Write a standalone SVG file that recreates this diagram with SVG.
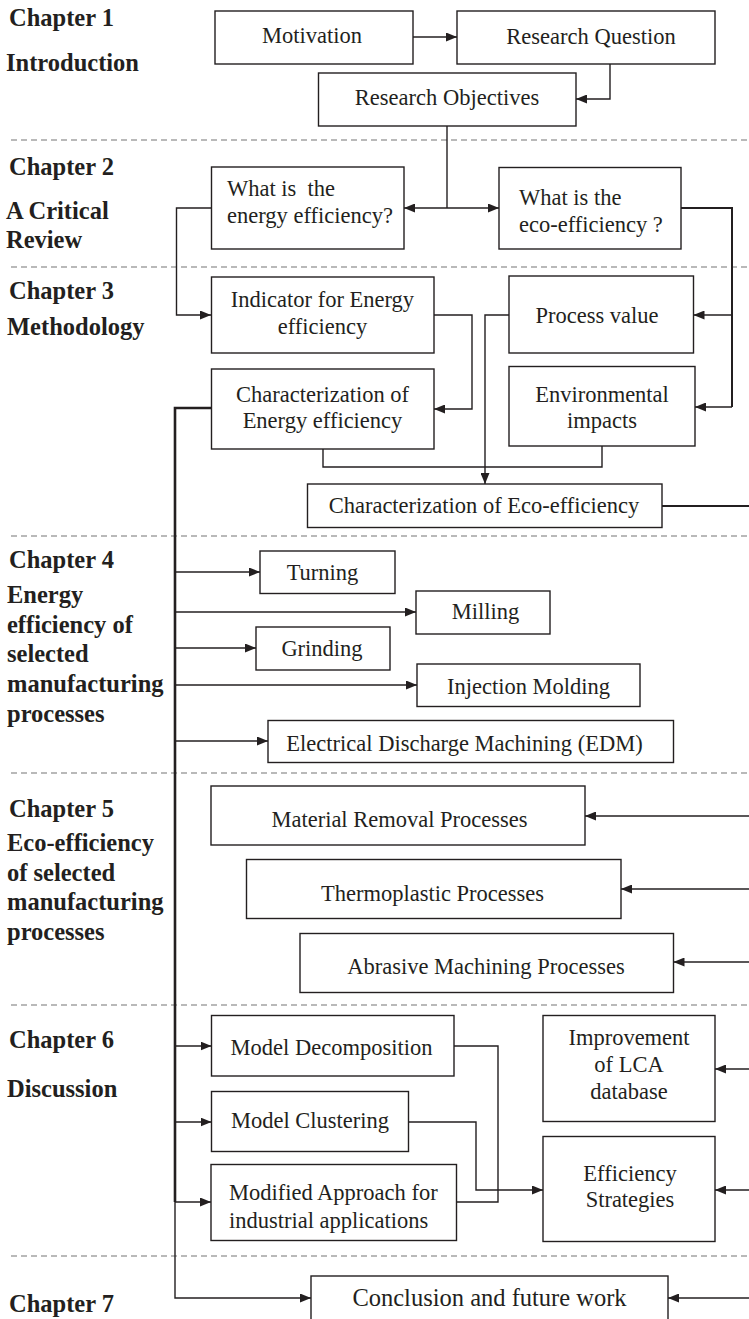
<svg xmlns="http://www.w3.org/2000/svg" width="749" height="1319" viewBox="0 0 749 1319">
  <style>
    .box { fill: #fff; stroke: #231f20; stroke-width: 1.4; }
    .t { font-family: "Liberation Serif", "Times New Roman", serif; font-size: 22.5px; fill: #231f20; }
    .c { text-anchor: middle; }
    .ch { font-family: "Liberation Serif", "Times New Roman", serif; font-size: 24.5px; font-weight: bold; fill: #231f20; }
    .sep { stroke: #a3a3a3; stroke-width: 1.4; stroke-dasharray: 6 4; fill: none; }
    .ln { fill: none; stroke: #231f20; stroke-width: 1.4; }
    .thick { stroke-width: 2.6; }
    .mid { stroke-width: 2; }
    .arr { marker-end: url(#ah); }
  </style>
  <defs>
    <marker id="ah" viewBox="0 0 11 9" refX="11" refY="4.5" markerWidth="11" markerHeight="9" markerUnits="userSpaceOnUse" orient="auto">
      <path d="M0,0 L11,4.5 L0,9 z" fill="#231f20"/>
    </marker>
  </defs>
  <rect width="749" height="1319" fill="#fff"/>

  <!-- chapter separators -->
  <g id="separators">
    <line class="sep" x1="11" y1="140" x2="749" y2="140"/>
    <line class="sep" x1="11" y1="267" x2="749" y2="267"/>
    <line class="sep" x1="11" y1="536" x2="749" y2="536"/>
    <line class="sep" x1="11" y1="773" x2="749" y2="773"/>
    <line class="sep" x1="11" y1="1005" x2="749" y2="1005"/>
    <line class="sep" x1="11" y1="1256" x2="749" y2="1256"/>
  </g>

  <!-- chapter headings -->
  <g id="chapters">
    <text class="ch" x="9" y="26">Chapter 1</text>
    <text class="ch" x="6" y="71">Introduction</text>
    <text class="ch" x="9" y="175">Chapter 2</text>
    <text class="ch" x="6" y="219">A Critical</text>
    <text class="ch" x="6" y="248">Review</text>
    <text class="ch" x="9" y="299">Chapter 3</text>
    <text class="ch" x="7" y="335">Methodology</text>
    <text class="ch" x="9" y="568">Chapter 4</text>
    <text class="ch" x="7" y="603">Energy</text>
    <text class="ch" x="7" y="633">efficiency of</text>
    <text class="ch" x="7" y="662">selected</text>
    <text class="ch" x="7" y="692">manufacturing</text>
    <text class="ch" x="7" y="722">processes</text>
    <text class="ch" x="9" y="817">Chapter 5</text>
    <text class="ch" x="7" y="851">Eco-efficiency</text>
    <text class="ch" x="7" y="881">of selected</text>
    <text class="ch" x="7" y="910">manufacturing</text>
    <text class="ch" x="7" y="940">processes</text>
    <text class="ch" x="9" y="1048">Chapter 6</text>
    <text class="ch" x="7" y="1097">Discussion</text>
    <text class="ch" x="9" y="1312">Chapter 7</text>
  </g>

  <!-- connectors -->
  <g id="connectors">
    <line class="ln arr" x1="413" y1="37" x2="457" y2="37"/>
    <polyline class="ln arr" points="610,64 610,99 576,99"/>
    <line class="ln" x1="447" y1="126" x2="447" y2="208"/>
    <line class="ln arr" x1="447" y1="208" x2="404" y2="208"/>
    <line class="ln arr" x1="447" y1="208" x2="499" y2="208"/>
    <polyline class="ln arr" points="211,208 176.5,208 176.5,315 211,315"/>
    <polyline class="ln mid" points="681,208 732,208 732,407"/>
    <line class="ln arr" x1="732" y1="315" x2="693.5" y2="315"/>
    <line class="ln arr" x1="732" y1="407" x2="695" y2="407"/>
    <polyline class="ln arr" points="434,315 472,315 472,409 434,409"/>
    <polyline class="ln" points="323,449 323,467 602,467 602,446"/>
    <polyline class="ln arr" points="509,315 485,315 485,484"/>
    <line class="ln mid" x1="662" y1="506" x2="749" y2="506"/>
    <!-- spine from Energy-efficiency characterization -->
    <polyline class="ln thick" points="211,408 175,408 175,1202"/>
    <polyline class="ln arr" points="175,1202 175,1298 311,1298"/>
    <line class="ln arr" x1="175" y1="572" x2="260" y2="572"/>
    <line class="ln arr" x1="175" y1="612" x2="416" y2="612"/>
    <line class="ln arr" x1="175" y1="648" x2="256" y2="648"/>
    <line class="ln arr" x1="175" y1="685" x2="417" y2="685"/>
    <line class="ln arr" x1="175" y1="741" x2="268" y2="741"/>
    <line class="ln arr" x1="175" y1="1046" x2="211.5" y2="1046"/>
    <line class="ln arr" x1="175" y1="1122" x2="211.5" y2="1122"/>
    <line class="ln arr" x1="175" y1="1202" x2="211" y2="1202"/>
    <!-- feeds from the right margin -->
    <line class="ln arr" x1="749" y1="816" x2="585" y2="816"/>
    <line class="ln arr" x1="749" y1="889" x2="621" y2="889"/>
    <line class="ln arr" x1="749" y1="962" x2="673.5" y2="962"/>
    <line class="ln arr" x1="749" y1="1069" x2="715" y2="1069"/>
    <line class="ln arr" x1="749" y1="1190" x2="715" y2="1190"/>
    <line class="ln arr" x1="749" y1="1298" x2="668" y2="1298"/>
    <!-- discussion models to strategies -->
    <polyline class="ln" points="454,1046 498,1046 498,1202 456.5,1202"/>
    <polyline class="ln arr" points="408.5,1122 476,1122 476,1190 543,1190"/>
  </g>

  <g id="motivation">
    <rect class="box" x="215" y="11" width="198" height="53"/>
    <text class="t c" x="312" y="43">Motivation</text>
  </g>
  <g id="research-question">
    <rect class="box" x="457" y="11" width="258" height="53"/>
    <text class="t c" x="591" y="44">Research Question</text>
  </g>
  <g id="research-objectives">
    <rect class="box" x="318.5" y="73" width="257.5" height="53"/>
    <text class="t c" x="447" y="105">Research Objectives</text>
  </g>
  <g id="energy-efficiency-question">
    <rect class="box" x="211.5" y="167" width="192.5" height="82"/>
    <text class="t" x="227" y="196" style="white-space:pre">What is  the</text>
    <text class="t" x="227" y="223">energy efficiency?</text>
  </g>
  <g id="eco-efficiency-question">
    <rect class="box" x="499" y="167.5" width="182" height="81.5"/>
    <text class="t" x="519" y="205">What is the</text>
    <text class="t" x="519" y="232">eco-efficiency ?</text>
  </g>
  <g id="indicator">
    <rect class="box" x="211.5" y="277" width="222.5" height="76"/>
    <text class="t c" x="322.5" y="307">Indicator for Energy</text>
    <text class="t c" x="322.5" y="334">efficiency</text>
  </g>
  <g id="process-value">
    <rect class="box" x="509" y="276" width="184.5" height="77"/>
    <text class="t c" x="597" y="323">Process value</text>
  </g>
  <g id="char-energy">
    <rect class="box" x="211.5" y="369" width="222.5" height="80"/>
    <text class="t c" x="322.5" y="402">Characterization of</text>
    <text class="t c" x="322.5" y="428">Energy efficiency</text>
  </g>
  <g id="environmental-impacts">
    <rect class="box" x="509" y="366.5" width="186" height="79.5"/>
    <text class="t c" x="602" y="402">Environmental</text>
    <text class="t c" x="602" y="428">impacts</text>
  </g>
  <g id="char-eco">
    <rect class="box" x="307.5" y="484" width="354.5" height="43.5"/>
    <text class="t c" x="484" y="513">Characterization of Eco-efficiency</text>
  </g>
  <g id="turning">
    <rect class="box" x="260" y="551" width="135" height="42.5"/>
    <text class="t c" x="322.5" y="580">Turning</text>
  </g>
  <g id="milling">
    <rect class="box" x="416" y="591" width="134" height="43"/>
    <text class="t c" x="485.5" y="619">Milling</text>
  </g>
  <g id="grinding">
    <rect class="box" x="256" y="627" width="134" height="43"/>
    <text class="t c" x="322" y="656">Grinding</text>
  </g>
  <g id="injection-molding">
    <rect class="box" x="417" y="664" width="223" height="42.5"/>
    <text class="t c" x="528.5" y="694">Injection Molding</text>
  </g>
  <g id="edm">
    <rect class="box" x="268" y="720.5" width="405.5" height="42"/>
    <text class="t c" x="464.5" y="751">Electrical Discharge Machining (EDM)</text>
  </g>
  <g id="material-removal">
    <rect class="box" x="211" y="786" width="374" height="59"/>
    <text class="t c" x="399.5" y="826.5">Material Removal Processes</text>
  </g>
  <g id="thermoplastic">
    <rect class="box" x="246.5" y="859.5" width="374.5" height="59"/>
    <text class="t c" x="432.5" y="900.5">Thermoplastic Processes</text>
  </g>
  <g id="abrasive">
    <rect class="box" x="300" y="933.5" width="373.5" height="59"/>
    <text class="t c" x="486" y="973.5">Abrasive Machining Processes</text>
  </g>
  <g id="model-decomposition">
    <rect class="box" x="211.5" y="1015.5" width="242.5" height="60.5"/>
    <text class="t c" x="331.5" y="1055">Model Decomposition</text>
  </g>
  <g id="model-clustering">
    <rect class="box" x="211.5" y="1091.5" width="197" height="60"/>
    <text class="t c" x="310" y="1128">Model Clustering</text>
  </g>
  <g id="modified-approach">
    <rect class="box" x="211" y="1164.5" width="245.5" height="76"/>
    <text class="t" x="229" y="1200">Modified Approach for</text>
    <text class="t" x="229" y="1228">industrial applications</text>
  </g>
  <g id="lca-database">
    <rect class="box" x="543" y="1015.5" width="172" height="106"/>
    <text class="t c" x="629" y="1045">Improvement</text>
    <text class="t c" x="629" y="1072">of LCA</text>
    <text class="t c" x="629" y="1099">database</text>
  </g>
  <g id="efficiency-strategies">
    <rect class="box" x="543" y="1136.5" width="172" height="105"/>
    <text class="t c" x="630" y="1181">Efficiency</text>
    <text class="t c" x="630" y="1207">Strategies</text>
  </g>
  <g id="conclusion">
    <rect class="box" x="311" y="1276" width="357" height="50"/>
    <text class="t c" x="489.5" y="1306" style="font-size:24.5px">Conclusion and future work</text>
  </g>
</svg>
